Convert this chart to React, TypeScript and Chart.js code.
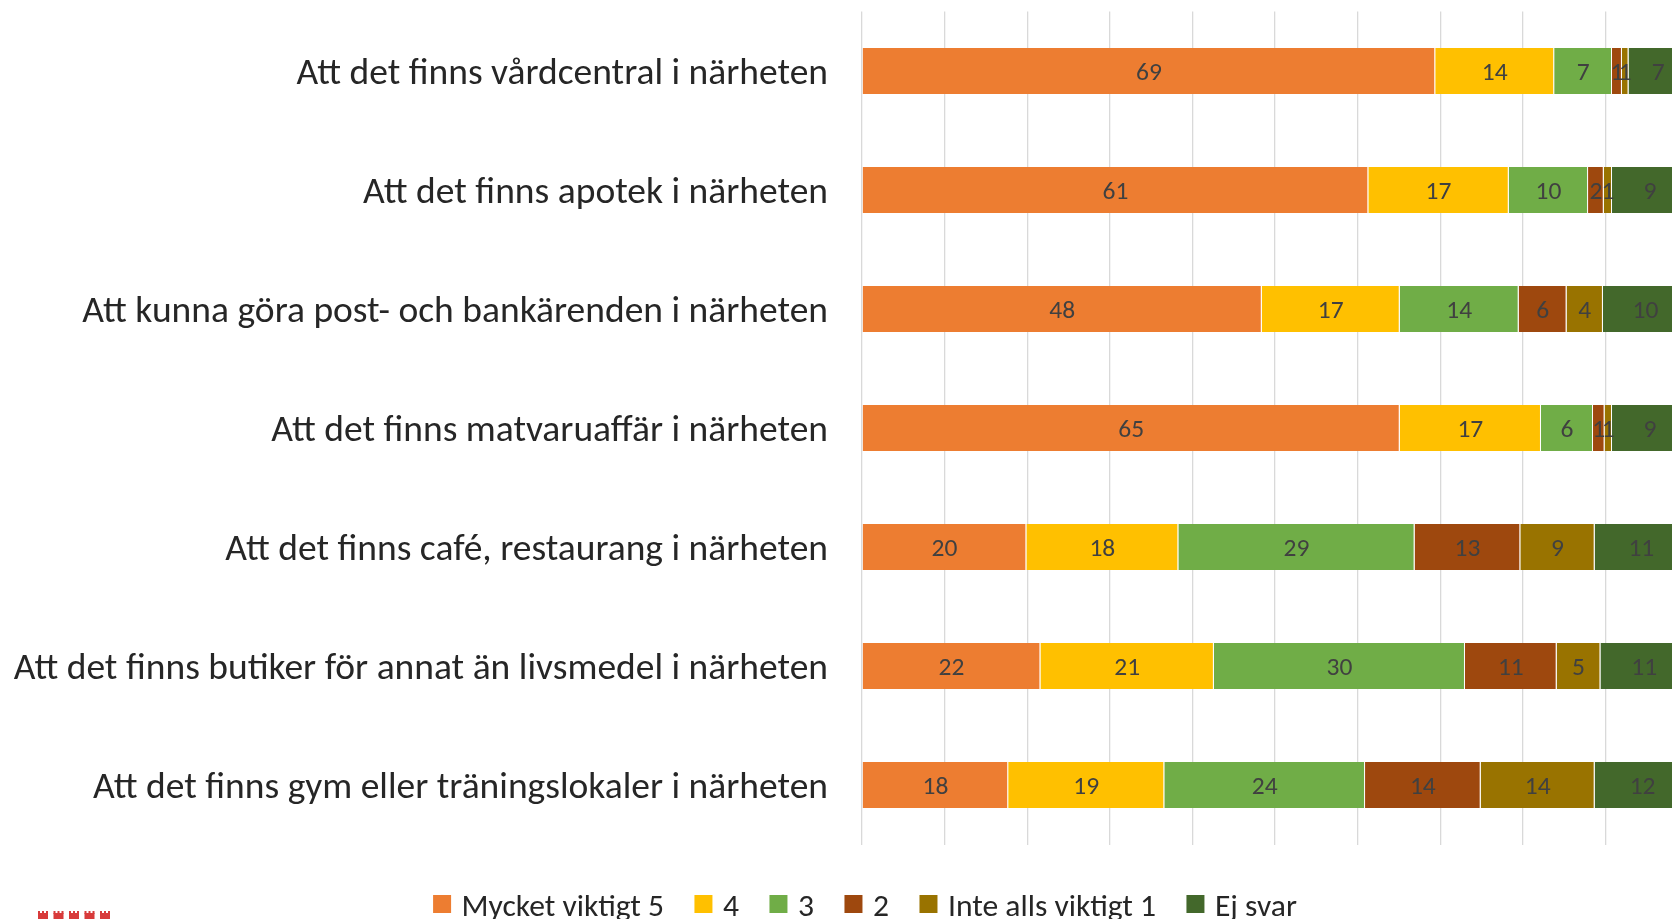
import React, { useEffect, useRef } from 'react';
import { Chart, registerables } from 'chart.js';

Chart.register(...registerables);

const categories = [
  'Att det finns vårdcentral i närheten',
  'Att det finns apotek i närheten',
  'Att kunna göra post- och bankärenden i närheten',
  'Att det finns matvaruaffär i närheten',
  'Att det finns café, restaurang i närheten',
  'Att det finns butiker för annat än livsmedel i närheten',
  'Att det finns gym eller träningslokaler i närheten',
];

const seriesNames = ['Mycket viktigt 5', '4', '3', '2', 'Inte alls viktigt 1', 'Ej svar'];

const mycketViktigt5 = [69.4, 61.3, 48.4, 65.1, 19.9, 21.6, 17.7];
const betyg4 = [14.4, 17.0, 16.7, 17.1, 18.4, 21.0, 18.9];
const betyg3 = [7.0, 9.6, 14.4, 6.3, 28.6, 30.4, 24.3];
const betyg2 = [1.2, 1.9, 5.8, 1.4, 12.8, 11.1, 14.0];
const inteAllsViktigt1 = [0.8, 1.0, 4.4, 0.9, 9.0, 5.3, 13.8];
const ejSvar = [7.2, 9.2, 10.3, 9.2, 11.3, 10.6, 11.6];

const seriesValues = [mycketViktigt5, betyg4, betyg3, betyg2, inteAllsViktigt1, ejSvar];
const seriesColors = ['#ED7D31', '#FFC000', '#70AD47', '#9E480E', '#997300', '#43682B'];

const FONT = 'Carlito, Lato, sans-serif';

const dataLabelPlugin = {
  id: 'segmentLabels',
  afterDatasetsDraw(chart: any) {
    const ctx = chart.ctx;
    ctx.save();
    ctx.font = `25.5px ${FONT}`;
    ctx.fillStyle = '#404040';
    ctx.textAlign = 'center';
    ctx.textBaseline = 'middle';
    chart.data.datasets.forEach((ds: any, di: number) => {
      const meta = chart.getDatasetMeta(di);
      meta.data.forEach((el: any, i: number) => {
        const v = ds.data[i];
        const cx = (el.x + el.base) / 2;
        ctx.fillText(String(Math.round(v)), cx, el.y + 3);
      });
    });
    ctx.restore();
  },
};

const legendPlugin = {
  id: 'customLegend',
  afterDraw(chart: any) {
    const ctx = chart.ctx;
    ctx.save();
    ctx.font = `31.6px ${FONT}`;
    ctx.textBaseline = 'middle';
    ctx.textAlign = 'left';
    const box = 18;
    const gap = 10.5;
    const spacing = 30.5;
    const items = chart.data.datasets.map((ds: any) => ({
      text: ds.label,
      color: ds.backgroundColor,
      w: box + gap + ctx.measureText(ds.label).width,
    }));
    const total = items.reduce((s: number, it: any) => s + it.w, 0) + spacing * (items.length - 1);
    const centerX = 865;
    const cy = 904;
    let x = centerX - total / 2;
    items.forEach((it: any) => {
      ctx.fillStyle = it.color;
      ctx.fillRect(x, cy - box / 2, box, box);
      ctx.fillStyle = '#262626';
      ctx.fillText(it.text, x + box + gap, cy + 4);
      x += it.w + spacing;
    });
    // small logo at bottom left
    ctx.fillStyle = '#D83B3B';
    for (let k = 0; k < 5; k++) {
      const lx = 38 + k * 15.5;
      const ly = 911;
      ctx.fillRect(lx, ly + 2, 10, 8);
      ctx.fillRect(lx, ly, 2, 3);
      ctx.fillRect(lx + 4, ly, 2, 3);
      ctx.fillRect(lx + 8, ly, 2, 3);
    }
    ctx.restore();
  },
};

export default function App() {
  const canvasRef = useRef<HTMLCanvasElement | null>(null);

  useEffect(() => {
    const canvas = canvasRef.current;
    if (!canvas) return;
    const chart = new Chart(canvas, {
      type: 'bar',
      data: {
        labels: categories,
        datasets: seriesValues.map((vals, i) => ({
          label: seriesNames[i],
          data: vals,
          backgroundColor: seriesColors[i],
          borderColor: 'rgba(255,255,255,0.45)',
          borderWidth: { left: 0, right: 1, top: 0, bottom: 0 },
          borderSkipped: false,
          categoryPercentage: 1,
          barPercentage: 0.387,
        })),
      },
      options: {
        indexAxis: 'y',
        animation: false,
        responsive: true,
        maintainAspectRatio: false,
        layout: { padding: { left: 0, right: 40, top: 11.5, bottom: 74.5 } },
        plugins: {
          legend: { display: false },
          tooltip: { enabled: false },
        },
        scales: {
          x: {
            stacked: true,
            min: 0,
            max: 100,
            ticks: { display: false, stepSize: 10 },
            grid: { color: '#D9D9D9', lineWidth: 1.3, drawTicks: false },
            border: { display: false },
            afterFit(scale: any) {
              scale.height = 0;
              scale.paddingLeft = 0;
              scale.paddingRight = 0;
            },
          },
          y: {
            stacked: true,
            grid: { display: false, drawTicks: false },
            border: { display: false },
            ticks: {
              padding: 34,
              labelOffset: 4,
              color: '#262626',
              font: { family: FONT, size: 37.5 },
            },
            afterFit(scale: any) {
              scale.width = 862;
              scale.paddingTop = 0;
              scale.paddingBottom = 0;
            },
          },
        },
      },
      plugins: [dataLabelPlugin, legendPlugin],
    });
    return () => chart.destroy();
  }, []);

  return (
    <div
      style={{
        position: 'fixed',
        left: 0,
        top: 0,
        width: 1672,
        height: 919,
        overflow: 'hidden',
        background: '#fff',
      }}
    >
      <div style={{ position: 'relative', width: 1728, height: 919 }}>
        <canvas ref={canvasRef} />
      </div>
    </div>
  );
}
